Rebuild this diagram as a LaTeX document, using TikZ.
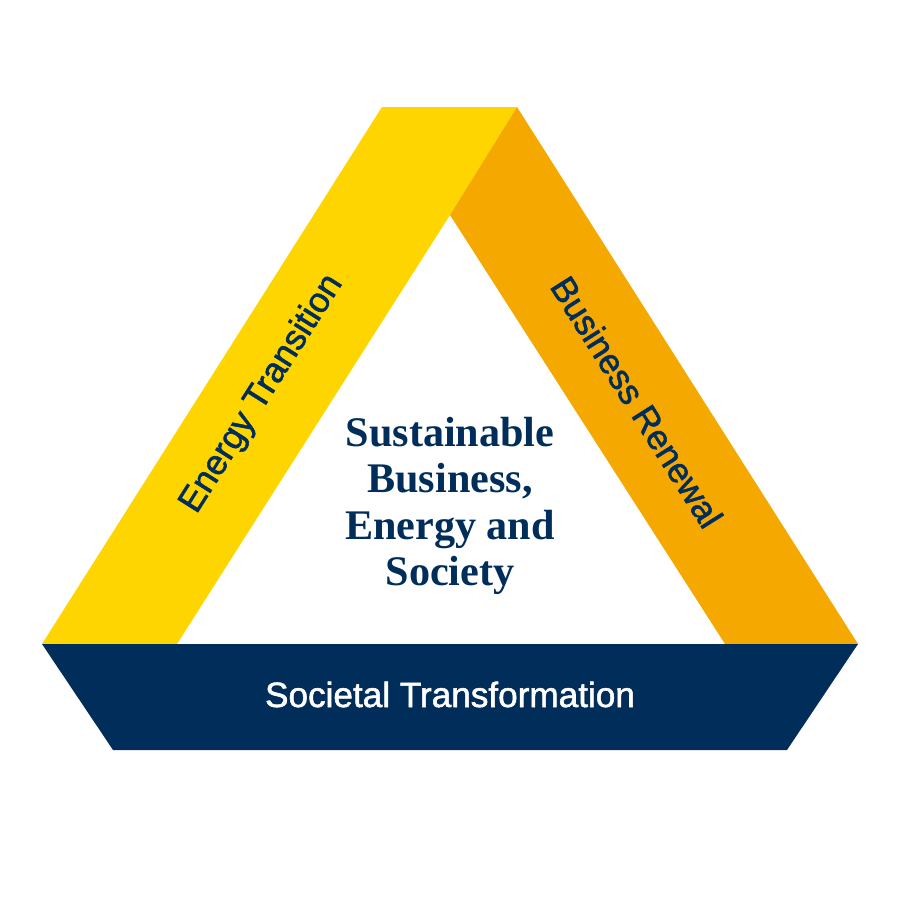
\documentclass[tikz,border=0pt]{standalone}
\usepackage{fontspec}
\setmainfont{Liberation Serif}
\newfontfamily\bandfont{Liberation Sans}[FakeBold=1.5]
\definecolor{energyyellow}{HTML}{FFD500}
\definecolor{renewalorange}{HTML}{F5A800}
\definecolor{societynavy}{HTML}{002D5A}

\begin{document}
\begin{tikzpicture}[x=0.2mm, y=-0.2mm,
    bandlabel/.style={font=\bandfont\fontsize{20}{24}\selectfont, text=societynavy, inner sep=0pt}]
        \useasboundingbox (0,0) rectangle (900,900);

        % the three bands
        \fill[energyyellow] (42,644) -- (382,107) -- (517,107) -- (450,215) -- (177,644) -- cycle;
        \fill[renewalorange] (517,107) -- (858,644) -- (725,644) -- (450,215) -- cycle;
        \fill[societynavy] (42,644) -- (858,644) -- (787,750) -- (113,750) -- cycle;

        \node[bandlabel, rotate=57.7] (energy) at (262,394) {Energy Transition};
        \node[bandlabel, rotate=-57.7] (business) at (637,402) {Business Renewal};
        \node[bandlabel, text=white, anchor=base] (societal) at (450,707) {Societal Transformation};

        \node[align=center, inner sep=0pt, text=societynavy,
              font=\rmfamily\bfseries\fontsize{24}{26.5}\selectfont] (core) at (450,506)
              {Sustainable\\Business,\\Energy and\\Society};

    \end{tikzpicture}
\end{document}
